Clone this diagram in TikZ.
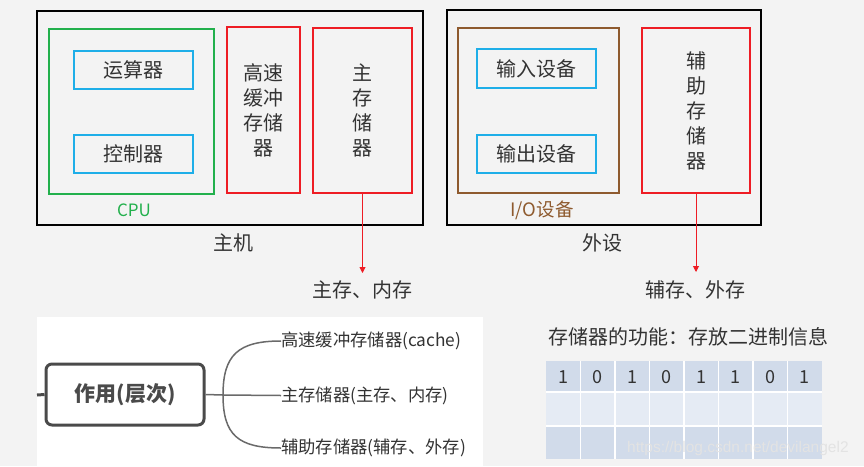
\documentclass[tikz,border=0pt]{standalone}
\usepackage{fontspec}
\setmainfont{Noto Sans CJK SC}
\newfontfamily\wmfont{Liberation Sans}
\usetikzlibrary{arrows.meta}
\definecolor{bgc}{HTML}{F3F3F3}
\definecolor{txt}{HTML}{333333}
\definecolor{cpugreen}{HTML}{22B04C}
\definecolor{unitblue}{HTML}{1EAEE8}
\definecolor{memred}{HTML}{EE1C24}
\definecolor{iobrown}{HTML}{8E5A2E}
\definecolor{mmgray}{HTML}{4A4A4A}
\definecolor{linegray}{HTML}{6A6A6A}
\definecolor{rowdark}{HTML}{D1DBEA}
\definecolor{rowlight}{HTML}{E5EBF4}
\tikzset{
  part/.style={line width=2.2pt, inner sep=0pt, text=txt, align=center,
    font=\fontsize{20}{25}\selectfont},
  unitbox/.style={part, draw=unitblue, minimum width=119pt, minimum height=38pt},
  membox/.style={part, draw=memred},
  lbl/.style={text=txt, inner sep=0pt, font=\fontsize{20}{25}\selectfont},
  mmlbl/.style={text=txt, inner sep=0pt, anchor=west, font=\fontsize{17.3}{20}\selectfont},
  redarrow/.style={draw=memred, line width=0.9pt, -{Triangle[length=6pt,width=6pt]}},
  branch/.style={draw=linegray, line width=1.5pt},
  cell/.style={draw=white, line width=1.6pt},
  digit/.style={text=txt, inner sep=0pt, font=\fontsize{18}{20}\selectfont}
}
\begin{document}
\begin{tikzpicture}[x=1pt,y=-1pt]
\useasboundingbox (0,0) rectangle (864,466);
\fill[bgc] (0,0) rectangle (864,466);
\fill[white] (37,317) rectangle (483,466);
% host
\node[draw=black, line width=2.6pt, minimum width=386pt, minimum height=214pt, inner sep=0pt] (host) at (230,118) {};
\node[part, draw=cpugreen, minimum width=165pt, minimum height=165pt] (cpu) at (131.5,111.5) {};
\node[unitbox] (alu) at (133.5,70) {运算器};
\node[unitbox] (ctrl) at (133.5,154) {控制器};
\node[membox, minimum width=73pt, minimum height=166pt] (cache) at (263.5,110) {高速\\缓冲\\存储\\器};
\node[membox, minimum width=99pt, minimum height=165pt] (mainmem) at (362.5,110.5) {主\\存\\储\\器};
\node[inner sep=0pt, text=cpugreen, font=\fontsize{17}{18}\selectfont] (cpulbl) at (134,210) {CPU};
\node[lbl] (hostlbl) at (233,243) {主机};
% peripherals
\node[draw=black, line width=2.6pt, minimum width=314pt, minimum height=215pt, inner sep=0pt] (periph) at (604,117.5) {};
\node[part, draw=iobrown, minimum width=161pt, minimum height=165pt] (io) at (538.5,110.5) {};
\node[unitbox, minimum height=39pt] (inp) at (536.5,68.5) {输入设备};
\node[unitbox] (outp) at (536.5,154) {输出设备};
\node[membox, minimum width=108pt, minimum height=165pt] (aux) at (696,110.5) {辅\\助\\存\\储\\器};
\node[inner sep=0pt, text=iobrown, font=\fontsize{18.5}{20}\selectfont] (iolbl) at (542,210) {I/O设备};
\node[lbl] (periphlbl) at (602,243) {外设};
% arrows
\coordinate (tipA) at (362.5,273);
\coordinate (tipB) at (696,272);
\draw[redarrow] (mainmem.south) -- (tipA);
\draw[redarrow] (aux.south) -- (tipB);
\node[lbl] (mainlbl) at (362,290) {主存、内存};
\node[lbl] (auxlbl) at (695,290) {辅存、外存};
% mind map
\node[draw=mmgray, line width=3pt, rounded corners=6pt, minimum width=158pt, minimum height=61pt,
  inner sep=0pt, text=mmgray, font=\fontsize{21}{24}\selectfont\bfseries] (role) at (125,394.5) {作用(层次)};
\coordinate (stub) at (37,395);
\draw[draw=mmgray, line width=3pt] (stub) -- (role.west);
\coordinate (junc) at (223,395);
\node[mmlbl] (b1) at (281,341) {高速缓冲存储器(cache)};
\node[mmlbl] (b2) at (281,395.5) {主存储器(主存、内存)};
\node[mmlbl] (b3) at (281,448) {辅助存储器(辅存、外存)};
\draw[branch] (role.east) -- (junc);
\draw[branch] (junc) .. controls (223,355) and (238,341) .. (b1.west);
\draw[branch] (junc) -- (b2.west);
\draw[branch] (junc) .. controls (223,435) and (238,448) .. (b3.west);
% storage function
\node[lbl] (func) at (688,337) {存储器的功能：存放二进制信息};
\foreach \c in {0,...,7}{
  \fill[rowdark] (546+\c*34.5,361) rectangle ++(34.5,31);
  \fill[rowlight] (546+\c*34.5,392) rectangle ++(34.5,34);
  \fill[rowdark] (546+\c*34.5,426) rectangle ++(34.5,33);
}
\foreach \c in {1,...,7}{
  \draw[cell] (546+\c*34.5,361) -- ++(0,98);
}
\draw[cell] (546,392) -- (822,392);
\draw[cell] (546,426) -- (822,426);
\foreach \d [count=\i from 0] in {1,0,1,0,1,1,0,1}{
  \node[digit] (d\i) at (563.25+\i*34.5,377) {\d};
}
\node[inner sep=0pt, anchor=west, text=white!78!gray, font=\wmfont\fontsize{15.5}{18}\selectfont] (wm) at (627,448) {https://blog.csdn.net/devilangel2};
\end{tikzpicture}
\end{document}
